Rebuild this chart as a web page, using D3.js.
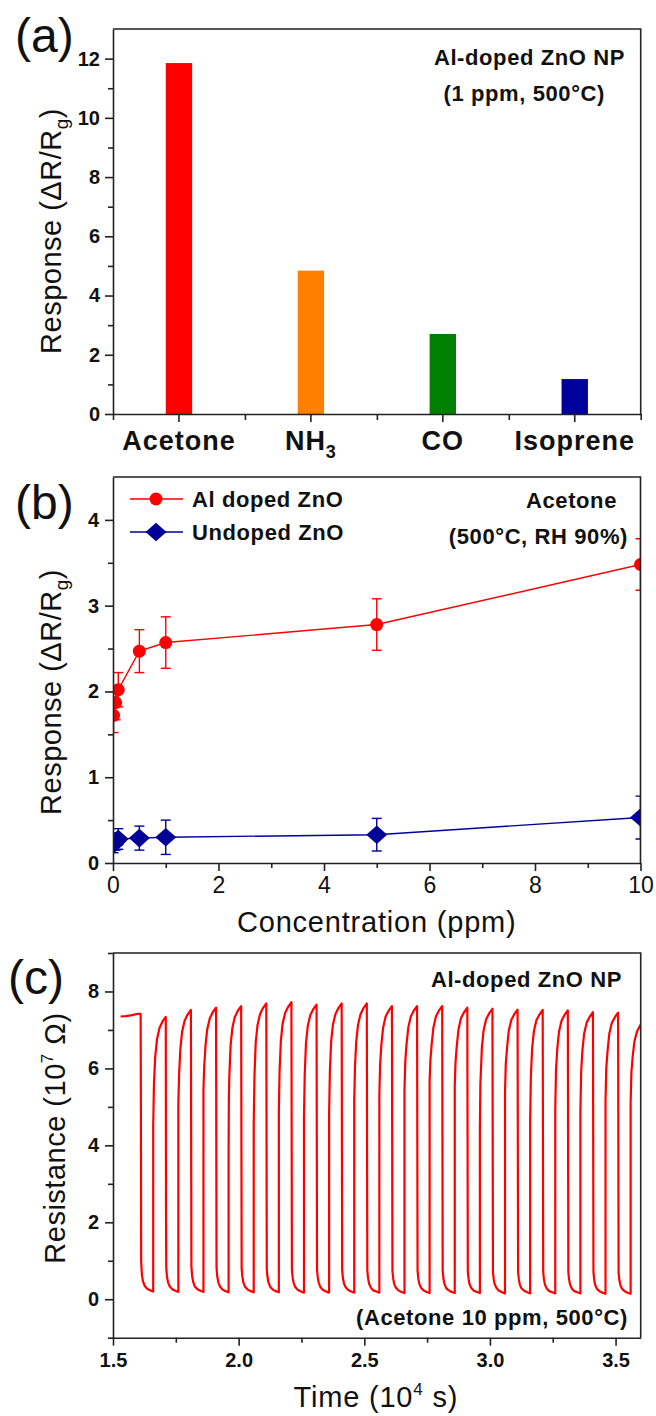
<!DOCTYPE html>
<html><head><meta charset="utf-8">
<script src="https://cdn.jsdelivr.net/npm/d3@7"></script>
<style>
html,body{margin:0;padding:0;background:#fff;}
svg{display:block;font-family:"Liberation Sans",Arial,Helvetica,sans-serif;}
</style></head><body>
<svg id="fig" width="656" height="1416"></svg>
<script>
// ---------- (a) selectivity at 1 ppm ----------
const gases = ["Acetone", "NH3", "CO", "Isoprene"];
const gasResponse = [11.85, 4.84, 2.70, 1.18];
const gasColors = ["#ff0000", "#ff8000", "#008000", "#00009c"];
const responseTicksA = [0, 2, 4, 6, 8, 10, 12];

// ---------- (b) response vs acetone concentration ----------
const concentration = [0.01, 0.05, 0.1, 0.5, 1, 5, 10];
const alDopedResponse = [1.72, 1.87, 2.02, 2.47, 2.57, 2.78, 3.48];
const alDopedError = [0.20, 0.20, 0.20, 0.25, 0.30, 0.30, 0.30];
const undopedResponse = [0.22, 0.25, 0.28, 0.29, 0.30, 0.33, 0.53];
const undopedError = [0.10, 0.10, 0.12, 0.14, 0.20, 0.19, 0.25];
const concTicks = [0, 2, 4, 6, 8, 10];
const responseTicksB = [0, 1, 2, 3, 4];

// ---------- (c) dynamic resistance, acetone 10 ppm cycles ----------
// [time (10^4 s), resistance (10^7 ohm)]
const resistanceTrace = [
  [1.530,7.35],[1.550,7.36],[1.570,7.38],[1.585,7.40],[1.600,7.42],
  [1.610,7.42],[1.611,5.10],[1.612,1.00],[1.615,0.64],[1.619,0.47],[1.626,0.35],[1.636,0.27],[1.648,0.23],[1.660,0.20],
  [1.660,4.50],[1.663,5.60],[1.668,6.30],[1.675,6.75],[1.685,7.05],[1.697,7.22],
  [1.710,7.34],[1.711,2.15],[1.712,0.80],[1.715,0.58],[1.719,0.44],[1.726,0.33],[1.736,0.26],[1.748,0.22],[1.760,0.19],
  [1.760,5.06],[1.763,5.85],[1.768,6.50],[1.775,6.95],[1.785,7.24],[1.797,7.40],
  [1.810,7.52],[1.812,0.85],[1.815,0.60],[1.819,0.45],[1.826,0.33],[1.836,0.26],[1.848,0.22],[1.860,0.19],
  [1.860,5.45],[1.863,6.05],[1.868,6.58],[1.875,7.02],[1.885,7.30],[1.897,7.46],
  [1.910,7.58],[1.912,0.82],[1.915,0.59],[1.919,0.44],[1.926,0.33],[1.936,0.25],[1.948,0.21],[1.960,0.18],
  [1.960,3.70],[1.961,5.20],[1.963,5.80],[1.968,6.60],[1.975,7.05],[1.985,7.34],[1.997,7.50],
  [2.010,7.62],[2.012,0.80],[2.015,0.58],[2.019,0.43],[2.026,0.32],[2.036,0.25],[2.048,0.21],[2.060,0.18],
  [2.060,4.54],[2.063,5.80],[2.068,6.68],[2.075,7.12],[2.085,7.41],[2.097,7.57],
  [2.110,7.69],[2.112,0.78],[2.115,0.57],[2.119,0.43],[2.126,0.32],[2.136,0.25],[2.148,0.21],[2.160,0.18],
  [2.160,4.89],[2.163,5.95],[2.168,6.72],[2.175,7.16],[2.185,7.44],[2.197,7.60],
  [2.210,7.72],[2.212,0.78],[2.215,0.56],[2.219,0.42],[2.226,0.31],[2.236,0.24],[2.248,0.20],[2.260,0.17],
  [2.260,4.72],[2.263,5.85],[2.268,6.66],[2.275,7.10],[2.285,7.38],[2.297,7.54],
  [2.310,7.66],[2.312,0.76],[2.315,0.56],[2.319,0.42],[2.326,0.31],[2.336,0.24],[2.348,0.20],[2.360,0.17],
  [2.360,4.80],[2.363,5.90],[2.368,6.69],[2.375,7.13],[2.385,7.41],[2.397,7.57],
  [2.410,7.69],[2.412,0.76],[2.415,0.55],[2.419,0.41],[2.426,0.31],[2.436,0.24],[2.448,0.20],[2.460,0.17],
  [2.460,5.15],[2.463,6.05],[2.468,6.69],[2.475,7.13],[2.485,7.41],[2.497,7.57],
  [2.510,7.69],[2.512,0.75],[2.515,0.55],[2.519,0.41],[2.526,0.30],[2.536,0.23],[2.548,0.20],[2.560,0.17],
  [2.560,5.32],[2.563,6.10],[2.568,6.62],[2.575,7.06],[2.585,7.35],[2.597,7.50],
  [2.610,7.62],[2.612,0.74],[2.615,0.54],[2.619,0.40],[2.626,0.30],[2.636,0.23],[2.648,0.19],[2.660,0.16],
  [2.660,5.45],[2.663,6.15],[2.668,6.62],[2.675,7.06],[2.685,7.35],[2.697,7.50],
  [2.710,7.62],[2.712,0.74],[2.715,0.54],[2.719,0.40],[2.726,0.30],[2.736,0.23],[2.748,0.19],[2.760,0.16],
  [2.760,5.67],[2.763,6.20],[2.768,6.62],[2.775,7.06],[2.785,7.35],[2.797,7.50],
  [2.810,7.62],[2.812,0.73],[2.815,0.53],[2.819,0.40],[2.826,0.29],[2.836,0.23],[2.848,0.19],[2.860,0.16],
  [2.860,5.54],[2.863,6.15],[2.868,6.58],[2.875,7.02],[2.885,7.31],[2.897,7.46],
  [2.910,7.58],[2.912,0.73],[2.915,0.53],[2.919,0.39],[2.926,0.29],[2.936,0.22],[2.948,0.19],[2.960,0.16],
  [2.960,4.41],[2.962,5.60],[2.968,6.55],[2.975,7.00],[2.985,7.28],[2.997,7.43],
  [3.010,7.55],[3.012,0.72],[3.015,0.52],[3.019,0.39],[3.026,0.29],[3.036,0.22],[3.048,0.18],[3.060,0.15],
  [3.060,5.37],[3.063,6.10],[3.068,6.53],[3.075,6.98],[3.085,7.26],[3.097,7.41],
  [3.110,7.53],[3.112,0.72],[3.115,0.52],[3.119,0.38],[3.126,0.28],[3.136,0.22],[3.148,0.18],[3.160,0.15],
  [3.160,4.62],[3.163,5.80],[3.168,6.52],[3.175,6.97],[3.185,7.25],[3.197,7.40],
  [3.210,7.52],[3.212,0.71],[3.215,0.51],[3.219,0.38],[3.226,0.28],[3.236,0.21],[3.248,0.18],[3.260,0.15],
  [3.260,4.93],[3.263,5.95],[3.268,6.51],[3.275,6.96],[3.285,7.24],[3.297,7.39],
  [3.310,7.51],[3.312,0.71],[3.315,0.51],[3.319,0.38],[3.326,0.28],[3.336,0.21],[3.348,0.18],[3.360,0.15],
  [3.360,4.89],[3.363,5.90],[3.368,6.46],[3.375,6.91],[3.385,7.19],[3.397,7.34],
  [3.410,7.46],[3.412,0.70],[3.415,0.50],[3.419,0.37],[3.426,0.27],[3.436,0.21],[3.448,0.17],[3.460,0.14],
  [3.460,5.15],[3.463,6.00],[3.468,6.45],[3.475,6.90],[3.485,7.18],[3.497,7.33],
  [3.510,7.45],[3.512,0.70],[3.515,0.50],[3.519,0.37],[3.526,0.27],[3.536,0.21],[3.548,0.17],[3.560,0.14],
  [3.560,5.11],[3.563,5.90],[3.568,6.30],[3.575,6.70],[3.585,6.95],[3.600,7.14]
];
const timeTicks = [1.5, 2.0, 2.5, 3.0, 3.5];
const resistanceTicks = [0, 2, 4, 6, 8];

// ---------- shared styling ----------
const AXIS = "#222";
const AXIS_W = 1.6;
const TICK_FONT = 20;
const NOTE_FONT = 22;
const TITLE_FONT = 29;
const svg = d3.select("#fig");

function styleAxis(g) {
  g.selectAll(".domain").attr("stroke", AXIS).attr("stroke-width", AXIS_W);
  g.selectAll(".tick line").attr("stroke", AXIS).attr("stroke-width", AXIS_W);
  g.selectAll(".tick text").attr("fill", "#111").attr("font-family", null);
}

function frame(g, x0, x1, y0, y1) {
  g.append("path")
    .attr("d", `M${x0},${y0}H${x1}V${y1}`)
    .attr("fill", "none").attr("stroke", AXIS).attr("stroke-width", AXIS_W);
}

function minorTicks(g, axisFn, scale, values, size) {
  const m = g.append("g").call(axisFn(scale).tickValues(values).tickSize(size).tickFormat(""));
  m.select(".domain").remove();
  m.selectAll(".tick line").attr("stroke", AXIS).attr("stroke-width", AXIS_W);
  return m;
}

function panelLabel(txt, x, y) {
  svg.append("text").attr("x", x).attr("y", y).attr("font-size", 48).attr("fill", "#111").text(txt);
}

function yTitle(cx, cy, build) {
  const t = svg.append("text")
    .attr("transform", `translate(${cx},${cy}) rotate(-90)`)
    .attr("text-anchor", "middle").attr("font-size", TITLE_FONT)
    .attr("letter-spacing", 0.5).attr("fill", "#111");
  build(t);
}

function boldNote(txt, x, y) {
  return svg.append("text").attr("x", x).attr("y", y).attr("text-anchor", "end")
    .attr("font-weight", "bold").attr("font-size", NOTE_FONT).attr("letter-spacing", 0.6)
    .attr("fill", "#111").text(txt);
}

function responseTitle(t) {
  t.append("tspan").text("Response (\u0394R/R");
  t.append("tspan").attr("font-size", 19).attr("dy", 7).text("g");
  t.append("tspan").attr("dy", -7).text(")");
}

// ============ (a) ============
{
  const L = 113, R = 640.7, T = 29, B = 414;
  const x = d3.scaleBand().domain(gases).range([L, R]).paddingInner(0.8).paddingOuter(0.4);
  const y = d3.scaleLinear().domain([0, 13]).range([B, T]);
  const g = svg.append("g");

  g.selectAll("rect.bar").data(gases).join("rect")
    .attr("class", "bar")
    .attr("x", d => x(d)).attr("width", x.bandwidth())
    .attr("y", (d, i) => y(gasResponse[i]))
    .attr("height", (d, i) => y(0) - y(gasResponse[i]))
    .attr("fill", (d, i) => gasColors[i]);

  frame(g, L, R, T, B);

  const ya = g.append("g").attr("transform", `translate(${L},0)`)
    .call(d3.axisLeft(y).tickValues(responseTicksA).tickSize(8).tickSizeOuter(0).tickPadding(5).tickFormat(d3.format("d")));
  styleAxis(ya);
  ya.selectAll(".tick text").attr("font-size", TICK_FONT).attr("font-weight", "bold");
  minorTicks(g.append("g").attr("transform", `translate(${L},0)`), d3.axisLeft, y, [1, 3, 5, 7, 9, 11], 5);

  const xa = g.append("g").attr("transform", `translate(0,${B})`)
    .call(d3.axisBottom(x).tickSize(8).tickSizeOuter(0).tickPadding(9));
  styleAxis(xa);
  xa.selectAll(".tick text").attr("font-size", 27).attr("font-weight", "bold").attr("letter-spacing", 1)
    .each(function (d) {
      const t = d3.select(this);
      if (d === "NH3") {
        t.text("NH");
        t.append("tspan").attr("font-size", 18).attr("dy", 8).text("3");
      }
    });
  // boundary ticks between the gas bands
  const bx = d3.scaleLinear().domain([0, gases.length]).range([L, R]);
  minorTicks(g.append("g").attr("transform", `translate(0,${B})`), d3.axisBottom, bx, d3.range(gases.length + 1), 6);

  panelLabel("(a)", 15, 52);
  yTitle(61, 231, responseTitle);
  boldNote("Al-doped ZnO NP", 625, 65);
  boldNote("(1 ppm, 500\u00B0C)", 605, 101);
}

// ============ (b) ============
{
  const L = 113, R = 640.5, T = 477, B = 863;
  const x = d3.scaleLinear().domain([0, 10]).range([L, R]);
  const y = d3.scaleLinear().domain([0, 4.5]).range([B, T]);
  const g = svg.append("g");

  svg.append("clipPath").attr("id", "clipB")
    .append("rect").attr("x", L).attr("y", T).attr("width", R - L).attr("height", B - T);
  const plot = g.append("g").attr("clip-path", "url(#clipB)");

  const series = [
    { vals: alDopedResponse, err: alDopedError, color: "#ff0000", shape: "circle" },
    { vals: undopedResponse, err: undopedError, color: "#000099", shape: "diamond" }
  ];
  const diamond = (cx, cy) => `M${cx},${cy - 9.3}L${cx + 10.5},${cy}L${cx},${cy + 9.3}L${cx - 10.5},${cy}Z`;

  series.forEach(s => {
    const pts = concentration.map((c, i) => ({ c, v: s.vals[i], e: s.err[i] }));
    plot.append("path").datum(pts)
      .attr("d", d3.line().x(d => x(d.c)).y(d => y(d.v)))
      .attr("fill", "none").attr("stroke", s.color).attr("stroke-width", 1.4);
    const eb = plot.append("g").attr("stroke", s.color).attr("stroke-width", 1.4);
    pts.forEach(d => {
      eb.append("line").attr("x1", x(d.c)).attr("x2", x(d.c)).attr("y1", y(d.v - d.e)).attr("y2", y(d.v + d.e));
      [d.v - d.e, d.v + d.e].forEach(v => eb.append("line")
        .attr("x1", x(d.c) - 5).attr("x2", x(d.c) + 5).attr("y1", y(v)).attr("y2", y(v)));
    });
    pts.forEach(d => {
      if (s.shape === "circle") {
        plot.append("circle").attr("cx", x(d.c)).attr("cy", y(d.v)).attr("r", 6.5).attr("fill", s.color);
      } else {
        plot.append("path").attr("d", diamond(x(d.c), y(d.v))).attr("fill", s.color);
      }
    });
  });

  frame(g, L, R, T, B);
  const ya = g.append("g").attr("transform", `translate(${L},0)`)
    .call(d3.axisLeft(y).tickValues(responseTicksB).tickSize(8).tickSizeOuter(0).tickPadding(6).tickFormat(d3.format("d")));
  styleAxis(ya);
  ya.selectAll(".tick text").attr("font-size", TICK_FONT).attr("font-weight", "bold");
  minorTicks(g.append("g").attr("transform", `translate(${L},0)`), d3.axisLeft, y, [0.5, 1.5, 2.5, 3.5], 5);

  const xa = g.append("g").attr("transform", `translate(0,${B})`)
    .call(d3.axisBottom(x).tickValues(concTicks).tickSize(8).tickSizeOuter(0).tickPadding(6).tickFormat(d3.format("d")));
  styleAxis(xa);
  xa.selectAll(".tick text").attr("font-size", 23);
  minorTicks(g.append("g").attr("transform", `translate(0,${B})`), d3.axisBottom, x, [1, 3, 5, 7, 9], 5);

  // legend
  const lg = svg.append("g");
  [["Al doped ZnO", 499, series[0]], ["Undoped ZnO", 532, series[1]]].forEach(([label, ly, s]) => {
    lg.append("line").attr("x1", 130).attr("x2", 183).attr("y1", ly).attr("y2", ly)
      .attr("stroke", s.color).attr("stroke-width", 1.4);
    if (s.shape === "circle") lg.append("circle").attr("cx", 156).attr("cy", ly).attr("r", 6.5).attr("fill", s.color);
    else lg.append("path").attr("d", diamond(156, ly)).attr("fill", s.color);
    lg.append("text").attr("x", 192).attr("y", ly + 8).attr("font-weight", "bold").attr("font-size", NOTE_FONT)
      .attr("letter-spacing", 0.6).attr("fill", "#111").text(label);
  });

  panelLabel("(b)", 15, 519);
  yTitle(61, 692, responseTitle);
  boldNote("Acetone", 617, 508);
  boldNote("(500\u00B0C, RH 90%)", 628, 544);
  svg.append("text").attr("x", (L + R) / 2).attr("y", 932).attr("text-anchor", "middle")
    .attr("font-size", TITLE_FONT).attr("letter-spacing", 0.8).attr("fill", "#111").text("Concentration (ppm)");
}

// ============ (c) ============
{
  const L = 113, R = 640.7, T = 953, B = 1337.7;
  const x = d3.scaleLinear().domain([1.5, 3.6]).range([L, R]);
  const y = d3.scaleLinear().domain([-1, 9]).range([B, T]);
  const g = svg.append("g");

  svg.append("clipPath").attr("id", "clipC")
    .append("rect").attr("x", L).attr("y", T).attr("width", R - L).attr("height", B - T);
  g.append("g").attr("clip-path", "url(#clipC)")
    .append("path").datum(resistanceTrace)
    .attr("d", d3.line().x(d => x(d[0])).y(d => y(d[1])))
    .attr("fill", "none").attr("stroke", "#ff0000").attr("stroke-width", 2.2).attr("stroke-linejoin", "round");

  frame(g, L, R, T, B);
  const ya = g.append("g").attr("transform", `translate(${L},0)`)
    .call(d3.axisLeft(y).tickValues(resistanceTicks).tickSize(8).tickSizeOuter(0).tickPadding(6).tickFormat(d3.format("d")));
  styleAxis(ya);
  ya.selectAll(".tick text").attr("font-size", TICK_FONT).attr("font-weight", "bold");
  minorTicks(g.append("g").attr("transform", `translate(${L},0)`), d3.axisLeft, y, [-1, 1, 3, 5, 7, 9], 5);

  const xa = g.append("g").attr("transform", `translate(0,${B})`)
    .call(d3.axisBottom(x).tickValues(timeTicks).tickSize(8).tickSizeOuter(0).tickPadding(7).tickFormat(d3.format(".1f")));
  styleAxis(xa);
  xa.selectAll(".tick text").attr("font-size", TICK_FONT).attr("font-weight", "bold");
  minorTicks(g.append("g").attr("transform", `translate(0,${B})`), d3.axisBottom, x, [1.75, 2.25, 2.75, 3.25], 5);

  panelLabel("(c)", 8, 994);
  yTitle(65, 1138, t => {
    t.append("tspan").text("Resistance (10");
    t.append("tspan").attr("font-size", 17).attr("dy", -12).text("7");
    t.append("tspan").attr("dy", 12).text(" \u03A9)");
  });
  boldNote("Al-doped ZnO NP", 622, 987);
  boldNote("(Acetone 10 ppm, 500\u00B0C)", 628, 1325);
  const tt = svg.append("text").attr("x", (L + R) / 2 - 1).attr("y", 1407).attr("text-anchor", "middle")
    .attr("font-size", TITLE_FONT).attr("letter-spacing", 0.8).attr("fill", "#111");
  tt.append("tspan").text("Time (10");
  tt.append("tspan").attr("font-size", 17).attr("dy", -12).text("4");
  tt.append("tspan").attr("dy", 12).text(" s)");
}
</script>
</body></html>
